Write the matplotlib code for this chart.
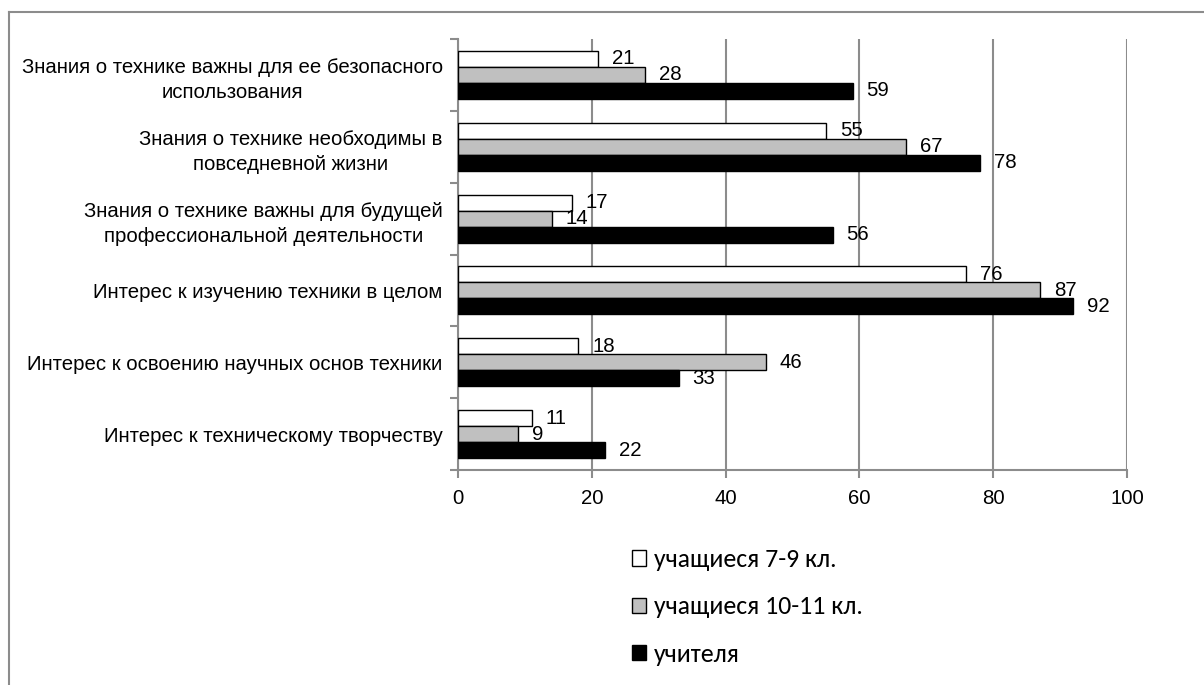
import matplotlib
matplotlib.use("Agg")
import matplotlib.pyplot as plt
from matplotlib import font_manager
from matplotlib.lines import Line2D
from matplotlib.patches import Patch
import numpy as np

categories = [
    "Знания о технике важны для ее безопасного\nиспользования",
    "Знания о технике необходимы в\nповседневной жизни",
    "Знания о технике важны для будущей\nпрофессиональной деятельности",
    "Интерес к изучению техники в целом",
    "Интерес к освоению научных основ техники",
    "Интерес к техническому творчеству",
]
series_names = ["учащиеся 7-9 кл.", "учащиеся 10-11 кл.", "учителя"]
s1 = [21, 55, 17, 76, 18, 11]
s2 = [28, 67, 14, 87, 46, 9]
s3 = [59, 78, 56, 92, 33, 22]
xticks = [0, 20, 40, 60, 80, 100]

avail = {f.name for f in font_manager.fontManager.ttflist}
main_font = [f for f in ["Liberation Sans Narrow", "Liberation Sans", "DejaVu Sans"] if f in avail]
leg_font = [f for f in ["Carlito", "Lato", "Open Sans", "DejaVu Sans"] if f in avail]
narrow = main_font[0] == "Liberation Sans Narrow"
fs = 16.5 if narrow else 14.7

plt.rcParams['font.family'] = main_font

fig = plt.figure(figsize=(12.04, 6.85), dpi=100)
ax = fig.add_axes([458/1204, 1-470/685, (1127-458)/1204, (470-39)/685])

grey = '#8c8c8c'
colors = ['white', '#c0c0c0', 'black']
h = 1/4.5
y = np.arange(len(categories))
for k, vals in enumerate([s1, s2, s3]):
    pos = y + (k-1)*h
    ax.barh(pos, vals, height=h, color=colors[k], edgecolor='black',
            linewidth=1.0, zorder=3, label=series_names[k])
    for p, v in zip(pos, vals):
        ax.annotate(str(v), (v, p), xytext=(10, 0), textcoords='offset points',
                    ha='left', va='center', fontsize=fs, zorder=4)

ax.set_xlim(0, 100)
ax.set_ylim(len(categories)-0.5, -0.5)
ax.set_xticks(xticks)
ax.set_xticklabels([str(t) for t in xticks], fontsize=fs)
ax.xaxis.grid(True, color=grey, linewidth=1.5, zorder=0)
ax.set_axisbelow(True)

ax.set_yticks(y)
ax.set_yticklabels(categories, fontsize=fs, multialignment='center', linespacing=1.4)
ax.set_yticks(np.arange(len(categories)+1)-0.5, minor=True)
ax.tick_params(axis='y', which='major', length=0, pad=11)
ax.tick_params(axis='y', which='minor', length=6, color=grey, width=1.5, direction='out')
ax.tick_params(axis='x', length=6, color=grey, width=1.5, pad=8)

for s in ['top', 'right']:
    ax.spines[s].set_visible(False)
for s in ['left', 'bottom']:
    ax.spines[s].set_color(grey)
    ax.spines[s].set_linewidth(1.5)

handles = [Patch(facecolor=colors[k], edgecolor='black', linewidth=1.0) for k in range(3)]
fig.legend(handles, series_names, loc='upper left', bbox_to_anchor=(632/1204, 1-548/685),
           frameon=False, prop={'family': leg_font, 'size': 18.5},
           handlelength=0.55, handleheight=0.55, handletextpad=0.3, labelspacing=0.95,
           borderpad=0, borderaxespad=0)

fig.add_artist(Line2D([9/1204, 1], [1-12/685, 1-12/685], transform=fig.transFigure,
                      color=grey, linewidth=1.5))
fig.add_artist(Line2D([9/1204, 9/1204], [0, 1-12/685], transform=fig.transFigure,
                      color=grey, linewidth=1.5))

fig.savefig("out.png", dpi=100, facecolor='white')
